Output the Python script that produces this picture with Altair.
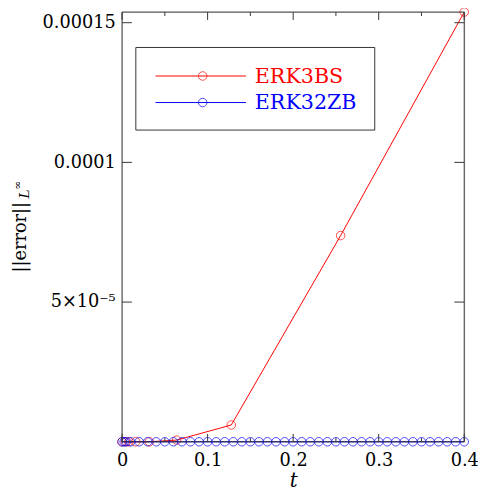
import altair as alt
import pandas as pd

# ---- data ----
red_t = [0.0, 0.004, 0.008, 0.016, 0.0319, 0.0638, 0.1277, 0.2555, 0.4]
red_err = [0.0, 0.0, 0.0, 0.0, 0.0, 0.6e-6, 6.0e-6, 7.38e-5, 1.538e-4]

blue_t = [0.0, 0.0025, 0.005] + [round(0.01 * k, 4) for k in range(1, 41)]
blue_err = [0.0] * len(blue_t)

x_major = [0.0, 0.1, 0.2, 0.3, 0.4]
x_minor = [0.05, 0.15, 0.25, 0.35]
y_major = [0.00005, 0.0001, 0.00015]

series_names = ["ERK3BS", "ERK32ZB"]
series_colors = ["#ff0000", "#0000ff"]

W, H = 348, 437
FONT = "DejaVu Serif"

xs = alt.Scale(domain=[0, 0.4], nice=False, zero=False)
ys = alt.Scale(domain=[0, 1.538e-4], nice=False, zero=False)

red_df = pd.DataFrame({"t": red_t, "err": red_err})
blue_df = pd.DataFrame({"t": blue_t, "err": blue_err})

y_label_expr = ("datum.value < 0.00006 ? '5×10⁻⁵' : "
                "(datum.value < 0.00011 ? '0.0001' : '0.00015')")

xaxis = alt.Axis(values=x_major, ticks=False, domain=False, grid=False,
                 labelFlush=False, labelOverlap=False,
                 labelExpr="datum.value == 0 ? '0' : format(datum.value, '.1f')",
                 labelFont=FONT, labelFontSize=18, labelColor="#000",
                 labelPadding=10, title="t", titleFont=FONT, titleFontSize=20,
                 titleFontStyle="italic", titleFontWeight="normal",
                 titleColor="#000", titlePadding=2)
yaxis = alt.Axis(values=y_major, ticks=False, domain=False, grid=False,
                 labelFlush=False, labelOverlap=False,
                 labelExpr=y_label_expr, labelFont=FONT, labelFontSize=18,
                 labelColor="#000", labelPadding=7, title=None)

title_df = pd.DataFrame({"a": [0]})
TC = "#333"

# plot frame
frame = alt.Chart(title_df).mark_rect(filled=False, stroke=TC, strokeWidth=1).encode(
    x=alt.value(0), x2=alt.value(W), y=alt.value(0), y2=alt.value(H))

red_line = alt.Chart(red_df).mark_line(color=series_colors[0], strokeWidth=1).encode(
    x=alt.X("t:Q", scale=xs, axis=xaxis),
    y=alt.Y("err:Q", scale=ys, axis=yaxis),
)
red_pts = alt.Chart(red_df).mark_point(color=series_colors[0], size=75, strokeWidth=1,
                                       filled=False, shape="circle").encode(
    x=alt.X("t:Q", scale=xs), y=alt.Y("err:Q", scale=ys))
blue_line = alt.Chart(blue_df).mark_line(color=series_colors[1], strokeWidth=1).encode(
    x=alt.X("t:Q", scale=xs), y=alt.Y("err:Q", scale=ys))
blue_pts = alt.Chart(blue_df).mark_point(color=series_colors[1], size=75, strokeWidth=1,
                                         filled=False, shape="circle").encode(
    x=alt.X("t:Q", scale=xs), y=alt.Y("err:Q", scale=ys))

# inward ticks
xmaj_df = pd.DataFrame({"t": x_major})
xmin_df = pd.DataFrame({"t": x_minor})
ymaj_df = pd.DataFrame({"v": y_major})

ticks = [
    alt.Chart(xmaj_df).mark_rule(color=TC, strokeWidth=1).encode(
        x=alt.X("t:Q", scale=xs), y=alt.value(H), y2=alt.value(H - 8)),
    alt.Chart(xmaj_df).mark_rule(color=TC, strokeWidth=1).encode(
        x=alt.X("t:Q", scale=xs), y=alt.value(0), y2=alt.value(8)),
    alt.Chart(xmin_df).mark_rule(color=TC, strokeWidth=1).encode(
        x=alt.X("t:Q", scale=xs), y=alt.value(H), y2=alt.value(H - 4)),
    alt.Chart(xmin_df).mark_rule(color=TC, strokeWidth=1).encode(
        x=alt.X("t:Q", scale=xs), y=alt.value(0), y2=alt.value(4)),
    alt.Chart(ymaj_df).mark_rule(color=TC, strokeWidth=1).encode(
        y=alt.Y("v:Q", scale=ys), x=alt.value(0), x2=alt.value(10)),
    alt.Chart(ymaj_df).mark_rule(color=TC, strokeWidth=1).encode(
        y=alt.Y("v:Q", scale=ys), x=alt.value(W), x2=alt.value(W - 10)),
]

# y-axis title ||error||_{L^inf}
ytitle = [
    alt.Chart(title_df).mark_text(text="||error||", font=FONT, fontSize=18, angle=270,
                                  align="center", baseline="middle", color="#000").encode(
        x=alt.value(-103), y=alt.value(229)),
    alt.Chart(title_df).mark_text(text="L", font=FONT, fontSize=14, fontStyle="italic",
                                  angle=270, align="center", baseline="middle",
                                  color="#000").encode(x=alt.value(-99), y=alt.value(185)),
    alt.Chart(title_df).mark_text(text="∞", font=FONT, fontSize=11, angle=270,
                                  align="center", baseline="middle",
                                  color="#000").encode(x=alt.value(-106), y=alt.value(176)),
]

# legend
leg_box = alt.Chart(title_df).mark_rect(fill="white", stroke=TC, strokeWidth=1).encode(
    x=alt.value(14), x2=alt.value(257), y=alt.value(36), y2=alt.value(120))
legend = [leg_box]
for name, col, yy in zip(series_names, series_colors, [65, 92]):
    legend.append(alt.Chart(title_df).mark_rule(color=col, strokeWidth=1).encode(
        x=alt.value(34), x2=alt.value(126), y=alt.value(yy)))
    legend.append(alt.Chart(title_df).mark_point(color=col, size=75, strokeWidth=1,
                                                 filled=False, shape="circle").encode(
        x=alt.value(82), y=alt.value(yy)))
    legend.append(alt.Chart(title_df).mark_text(text=name, font=FONT, fontSize=21,
                                                align="left", baseline="middle",
                                                color=col).encode(
        x=alt.value(135), y=alt.value(yy + 1)))

chart = alt.layer(
    red_line, red_pts, blue_line, blue_pts, frame, *ticks, *ytitle, *legend
).properties(
    width=W, height=H,
    autosize=alt.AutoSizeParams(type="none"),
    padding={"left": 116, "top": 0, "right": 14, "bottom": 50},
)

chart.save("out.html", embed_options={"renderer": "svg", "actions": False})
